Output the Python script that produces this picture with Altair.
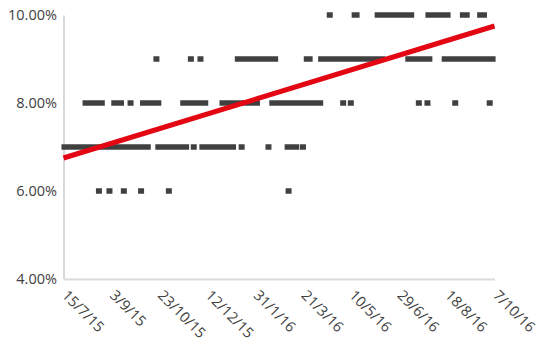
import altair as alt
import pandas as pd

# Runs of consecutive observations (first date, last date) per rate level
rate_levels = [0.06, 0.07, 0.08, 0.09, 0.10]

runs_6 = [("2015-08-21", "2015-08-21"), ("2015-09-01", "2015-09-01"),
          ("2015-09-16", "2015-09-16"), ("2015-10-04", "2015-10-04"),
          ("2015-11-02", "2015-11-02"), ("2016-03-06", "2016-03-06")]
runs_7 = [("2015-07-16", "2015-10-11"), ("2015-10-22", "2015-11-20"),
          ("2015-11-28", "2015-11-28"), ("2015-12-07", "2016-01-08"),
          ("2016-01-17", "2016-01-17"), ("2016-02-14", "2016-02-14"),
          ("2016-03-05", "2016-03-14"), ("2016-03-21", "2016-03-21")]
runs_8 = [("2015-08-07", "2015-08-24"), ("2015-09-06", "2015-09-13"),
          ("2015-09-23", "2015-09-23"), ("2015-10-06", "2015-10-22"),
          ("2015-11-17", "2015-12-10"), ("2015-12-28", "2016-02-02"),
          ("2016-02-18", "2016-04-08"), ("2016-05-02", "2016-05-02"),
          ("2016-05-10", "2016-05-10"), ("2016-07-20", "2016-07-20"),
          ("2016-07-29", "2016-07-29"), ("2016-08-27", "2016-08-27"),
          ("2016-10-02", "2016-10-02")]
runs_9 = [("2015-10-20", "2015-10-20"), ("2015-11-25", "2015-11-25"),
          ("2015-12-05", "2015-12-05"), ("2016-01-13", "2016-02-21"),
          ("2016-03-25", "2016-03-28"), ("2016-04-09", "2016-06-12"),
          ("2016-07-09", "2016-07-31"), ("2016-08-16", "2016-10-05")]
runs_10 = [("2016-04-18", "2016-04-18"), ("2016-05-14", "2016-05-16"),
           ("2016-06-07", "2016-07-12"), ("2016-07-30", "2016-08-19"),
           ("2016-09-04", "2016-09-08"), ("2016-09-22", "2016-09-26")]

trend_dates = ["2015-07-15", "2016-10-07"]
trend_values = [0.0675, 0.0975]

tick_dates = [(2015, 7, 15), (2015, 9, 3), (2015, 10, 23), (2015, 12, 12),
              (2016, 1, 31), (2016, 3, 21), (2016, 5, 10), (2016, 6, 29),
              (2016, 8, 18), (2016, 10, 7)]
y_ticks = [0.04, 0.06, 0.08, 0.10]

rows = []
for level, runs in zip(rate_levels, [runs_6, runs_7, runs_8, runs_9, runs_10]):
    for s, e in runs:
        rows.append({"start": s + "T00:00:00", "end": e + "T00:00:00", "rate": level})
runs_df = pd.DataFrame(rows)
trend_df = pd.DataFrame({"start": [d + "T00:00:00" for d in trend_dates], "rate": trend_values})

def dt(t):
    return alt.DateTime(year=t[0], month=t[1], date=t[2])

x_scale = alt.Scale(domain=[dt(tick_dates[0]), dt(tick_dates[-1])], nice=False)
y_scale = alt.Scale(domain=[0.04, 0.10], nice=False, zero=False)

x_axis = alt.Axis(values=[dt(t) for t in tick_dates], format="%-d/%-m/%y",
                  labelAngle=45, labelAlign="left", labelBaseline="middle",
                  labelPadding=14, title=None, grid=False, ticks=False,
                  labelOverlap=False)
y_axis = alt.Axis(values=y_ticks, format=".2%", title=None, grid=False,
                  ticks=False, labelPadding=7)

marks = alt.Chart(runs_df).mark_rect(
    color="#404040", xOffset=-3, x2Offset=3, yOffset=-2.75, y2Offset=2.75
).encode(
    x=alt.X("start:T", scale=x_scale, axis=x_axis),
    x2="end:T",
    y=alt.Y("rate:Q", scale=y_scale, axis=y_axis),
    y2="rate:Q",
)

trend = alt.Chart(trend_df).mark_line(color="#e30613", strokeWidth=5).encode(
    x=alt.X("start:T", scale=x_scale, axis=x_axis),
    y=alt.Y("rate:Q", scale=y_scale, axis=y_axis),
)

chart = alt.layer(marks, trend).properties(
    width=431, height=264,
    padding={"left": 63.5, "top": 15, "right": 58.5, "bottom": 69},
    autosize=alt.AutoSizeParams(type="none"),
    background="white",
).configure_view(stroke=None).configure_axis(
    labelFont="Open Sans", labelFontSize=14.5, labelColor="#404040",
    domainColor="#d9d9d9", domainWidth=2,
)

chart.save("out.html", embed_options={"renderer": "svg", "actions": False})
